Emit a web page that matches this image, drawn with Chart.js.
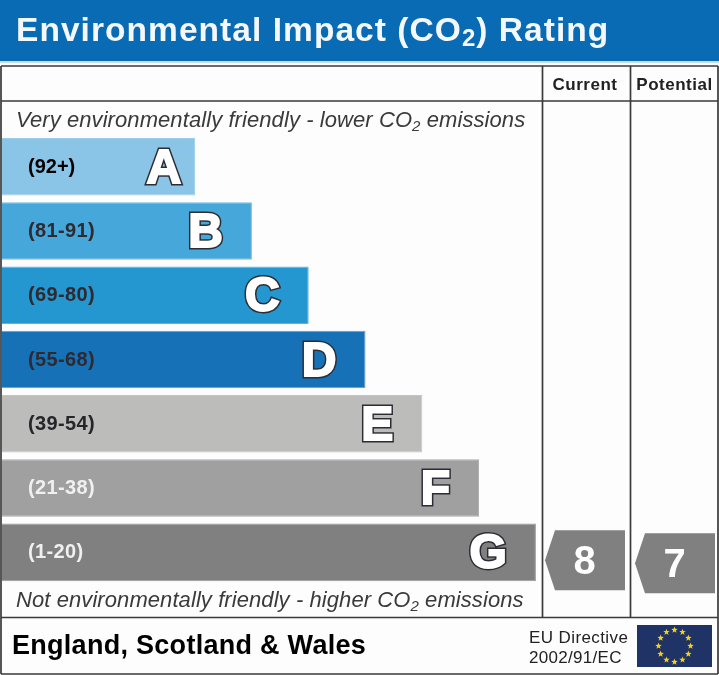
<!DOCTYPE html>
<html>
<head>
<meta charset="utf-8">
<title>Environmental Impact (CO2) Rating</title>
<script src="https://cdn.jsdelivr.net/npm/chart.js@4"></script>
<style>
  html, body { margin: 0; padding: 0; background: #fff; }
  canvas { display: block; }
</style>
</head>
<body>
<canvas id="grafico" width="719" height="675"></canvas>
<script>
// Dados
const bandas = ["A", "B", "C", "D", "E", "F", "G"];
const faixas = ["(92+)", "(81-91)", "(69-80)", "(55-68)", "(39-54)", "(21-38)", "(1-20)"];
const limiteInferior = [92, 81, 69, 55, 39, 21, 1];
const comprimentos = [34, 44, 54, 64, 74, 84, 94];
const coresBarras = ["#8ac5e7", "#46a7da", "#2496d0", "#1671b7", "#bcbcba", "#a0a0a0", "#808080"];
const coresBordas = ["#9ccfec", "#74bde4", "#62b4e0", "#5f9fd6", "#c4c4c2", "#aaaaaa", "#999999"];
const coresFaixas = ["#000000", "#2e2a30", "#2e2a30", "#2e2a30", "#26262a", "#f0f0f0", "#f0f0f0"];
const notaAtual = 8;
const notaPotencial = 7;

const FONTE = '"Liberation Sans", Arial, sans-serif';

function bandaDaNota(nota) {
  return bandas[limiteInferior.findIndex(lim => nota >= lim)];
}

function texto(ctx, str, x, y, fonte, cor, alinhar, espaco) {
  ctx.font = fonte;
  ctx.fillStyle = cor;
  ctx.textAlign = alinhar || "left";
  ctx.textBaseline = "alphabetic";
  ctx.letterSpacing = (espaco || 0) + "px";
  ctx.fillText(str, x, y);
  const w = ctx.measureText(str).width;
  ctx.letterSpacing = "0px";
  return w;
}

// Texto com CO2 em subscrito
function textoCO2(ctx, antes, depois, x, y, fonte, fonteSub, cor, espaco, descida) {
  let px = x;
  px += texto(ctx, antes, px, y, fonte, cor, "left", espaco);
  px += texto(ctx, "2", px, y + descida, fonteSub, cor, "left", espaco);
  texto(ctx, depois, px, y, fonte, cor, "left", espaco);
}

function estrela(ctx, cx, cy, r) {
  ctx.beginPath();
  for (let i = 0; i < 10; i++) {
    const raio = i % 2 ? r * 0.42 : r;
    const a = -Math.PI / 2 + i * Math.PI / 5;
    ctx.lineTo(cx + raio * Math.cos(a), cy + raio * Math.sin(a));
  }
  ctx.closePath();
  ctx.fill();
}

function seta(ctx, esq, dir, topo, base, ponta, nota) {
  const meio = (topo + base) / 2;
  ctx.fillStyle = "#808080";
  ctx.beginPath();
  ctx.moveTo(ponta, meio);
  ctx.lineTo(esq, topo);
  ctx.lineTo(dir, topo);
  ctx.lineTo(dir, base);
  ctx.lineTo(esq, base);
  ctx.closePath();
  ctx.fill();
  texto(ctx, String(nota), (esq + dir) / 2 - 5.5, meio + 14, "bold 40px " + FONTE, "#ffffff", "center");
}

// Moldura, titulo e rodape
const molduraPlugin = {
  id: "moldura",
  beforeDatasetsDraw(chart) {
    const ctx = chart.ctx;
    ctx.save();
    ctx.fillStyle = "#fdfdfd";
    ctx.fillRect(0, 0, 719, 675);
    ctx.fillStyle = "#096bb3";
    ctx.fillRect(0, 0, 719, 61);
    ctx.fillStyle = "#c9dcec";
    ctx.fillRect(0, 61, 719, 2);

    ctx.strokeStyle = "#3a3a3a";
    ctx.lineWidth = 1.7;
    ctx.beginPath();
    ctx.moveTo(1, 66); ctx.lineTo(718, 66);
    ctx.moveTo(1, 101); ctx.lineTo(718, 101);
    ctx.moveTo(1, 617.5); ctx.lineTo(718, 617.5);
    ctx.moveTo(1, 674); ctx.lineTo(718, 674);
    ctx.moveTo(1, 66); ctx.lineTo(1, 674);
    ctx.moveTo(718, 66); ctx.lineTo(718, 674);
    ctx.moveTo(542.5, 66); ctx.lineTo(542.5, 617);
    ctx.moveTo(630.5, 66); ctx.lineTo(630.5, 617);
    ctx.stroke();
    ctx.restore();
  },
  afterDatasetsDraw(chart) {
    const ctx = chart.ctx;
    const x = chart.scales.x;
    const y = chart.scales.y;
    ctx.save();

    textoCO2(ctx, "Environmental Impact (CO", ") Rating", 16, 41,
      "bold 33.5px " + FONTE, "bold 24px " + FONTE, "#f4f8fb", 1.05, 5);
    texto(ctx, "Current", 585, 90, "bold 17px " + FONTE, "#222222", "center", 0.5);
    texto(ctx, "Potential", 674.5, 90, "bold 17px " + FONTE, "#222222", "center", 0.5);

    const italica = "italic 22px " + FONTE;
    const italicaSub = "italic 15px " + FONTE;
    textoCO2(ctx, "Very environmentally friendly - lower CO", " emissions", 16, 127, italica, italicaSub, "#3a3a3a", 0.08, 4);
    textoCO2(ctx, "Not environmentally friendly - higher CO", " emissions", 16, 607, italica, italicaSub, "#3a3a3a", 0.08, 4);

    // Rotulos e letras de cada barra
    bandas.forEach((b, i) => {
      const cy = y.getPixelForValue(i);
      const fim = x.getPixelForValue(comprimentos[i]);
      texto(ctx, faixas[i], 28, cy + 6, "bold 20px " + FONTE, coresFaixas[i], "left", i === 0 ? 0 : 0.35);

      ctx.font = "bold 48px " + FONTE;
      ctx.textAlign = "right";
      ctx.textBaseline = "alphabetic";
      ctx.lineJoin = "miter";
      ctx.miterLimit = 3;
      const lx = fim - (i === 0 ? 14 : 29);
      ctx.strokeStyle = "#2c2c34";
      ctx.lineWidth = 5;
      ctx.strokeText(b, lx, cy + 16);
      ctx.strokeStyle = "#ffffff";
      ctx.lineWidth = 2;
      ctx.strokeText(b, lx, cy + 16);
      ctx.fillStyle = "#ffffff";
      ctx.fillText(b, lx, cy + 16);
    });

    // Setas das notas atual e potencial
    const yAtual = y.getPixelForValue(bandas.indexOf(bandaDaNota(notaAtual)));
    const yPot = y.getPixelForValue(bandas.indexOf(bandaDaNota(notaPotencial)));
    seta(ctx, 555, 625, yAtual - 22, yAtual + 38, 545, notaAtual);
    seta(ctx, 645, 715, yPot - 19, yPot + 41, 635, notaPotencial);

    // Rodape
    texto(ctx, "England, Scotland & Wales", 12, 654, "bold 27px " + FONTE, "#000000", "left", 0.28);
    texto(ctx, "EU Directive", 529, 643, "17px " + FONTE, "#222222", "left", 0.4);
    texto(ctx, "2002/91/EC", 529, 663, "17px " + FONTE, "#222222", "left", 0.3);

    // Bandeira da UE
    ctx.fillStyle = "#1f3366";
    ctx.fillRect(637, 625, 75, 42);
    ctx.fillStyle = "#f5d117";
    for (let i = 0; i < 12; i++) {
      const a = i * Math.PI / 6;
      estrela(ctx, 674.5 + 16 * Math.sin(a), 646 - 16 * Math.cos(a), 3.4);
    }
    ctx.restore();
  }
};

function graficoImpacto() {
  const ctx = document.getElementById("grafico").getContext("2d");

  new Chart(ctx, {
    type: "bar",
    data: {
      labels: bandas,
      datasets: [{
        data: comprimentos,
        backgroundColor: coresBarras,
        borderColor: coresBordas,
        borderWidth: 1,
        barPercentage: 0.895,
        categoryPercentage: 1
      }]
    },
    options: {
      indexAxis: "y",
      responsive: false,
      animation: false,
      devicePixelRatio: 1,
      layout: { padding: { left: 2, right: 149, top: 134.5, bottom: 90.5 } },
      plugins: {
        legend: { display: false },
        tooltip: { enabled: false },
        title: { display: false }
      },
      scales: {
        x: { display: false, min: 0, max: 100 },
        y: { display: false }
      }
    },
    plugins: [molduraPlugin]
  });
}

graficoImpacto();
</script>
</body>
</html>
